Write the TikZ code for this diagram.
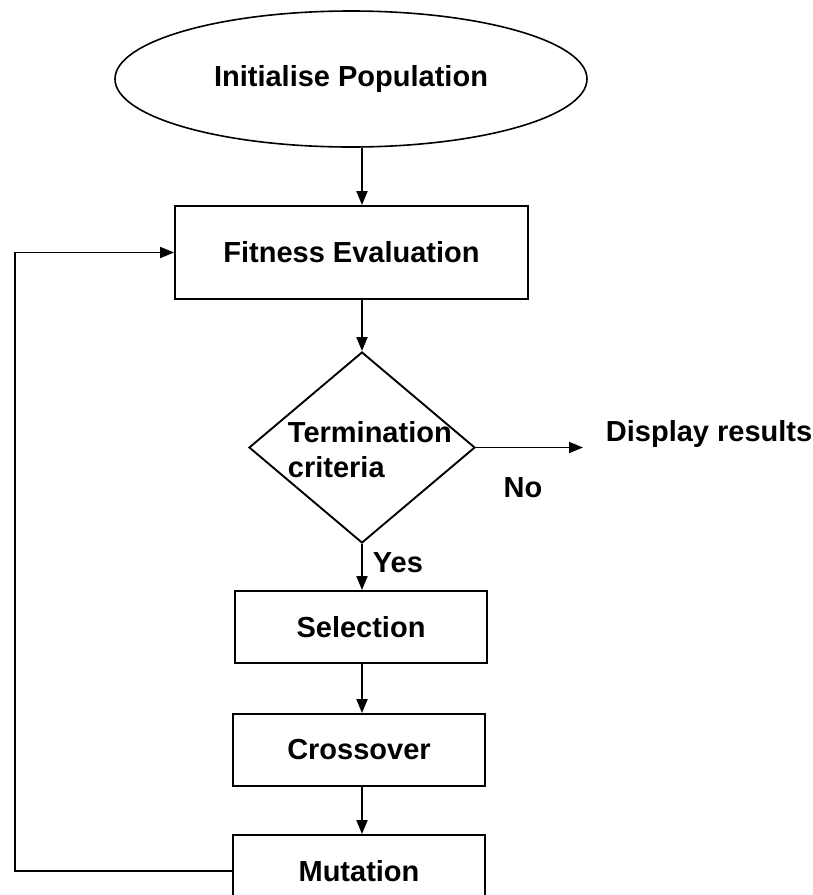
\documentclass[tikz,border=0pt]{standalone}
\usepackage{fontspec}
\setmainfont{Liberation Sans}
\usetikzlibrary{shapes.geometric,arrows.meta}

\begin{document}
\begin{tikzpicture}[x=1pt,y=-1pt,line width=1.9pt,>={Triangle[length=14pt,width=11pt]}]
        \tikzstyle{start}=[ellipse,draw,line width=1.6pt,minimum width=472pt,minimum height=136pt,inner sep=0pt]
        \tikzstyle{process}=[rectangle,draw,inner sep=0pt,minimum width=252pt,minimum height=72pt]
        \tikzstyle{decision}=[diamond,draw,minimum width=226pt,minimum height=191pt,inner sep=0pt]
        \tikzstyle{txt}=[inner sep=0pt]
        \tikzstyle{link}=[draw,->]
        \useasboundingbox (0,0) rectangle (812,895);
       \begin{scope}[font=\fontsize{29}{35}\selectfont\bfseries]
         \node [start] (init) at (351,79) {Initialise Population};
         \node [process,minimum width=353pt,minimum height=93pt] (fit) at (351.5,252.5) {Fitness Evaluation};
         \node [decision] (term) at (362,447.5) {};
         \node [txt,anchor=west,align=left] (crit) at (287,449.5) {Termination\\criteria};
         \node [txt,anchor=west,inner xsep=22pt] (disp) at (583,434) {Display results};
         \node [process] (sel) at (361,627) {Selection};
         \node [process] (cross) at (359,750) {Crossover};
         \node [process] (mut) at (359,871) {Mutation};
         \coordinate (back) at (15,871);

         \path (init.south -| term) edge[link] (fit.north -| term);
         \path (fit.south -| term) edge[link] (term.north);

         \path (term.east) edge[link] node[txt,below=29pt,pos=0.44] (no) {No} (term.east -| disp.west);
         \path (term.south) edge[link] node[txt,right=10pt,pos=0.4] (yes) {Yes} (sel.north -| term);

         \path (sel.south -| term) edge[link] (cross.north -| term);
         \path (cross.south -| term) edge[link] (mut.north -| term);

         \draw[->] (mut.west) -- (back) |- (fit.west);
        \end{scope}
      \end{tikzpicture}
\end{document}
